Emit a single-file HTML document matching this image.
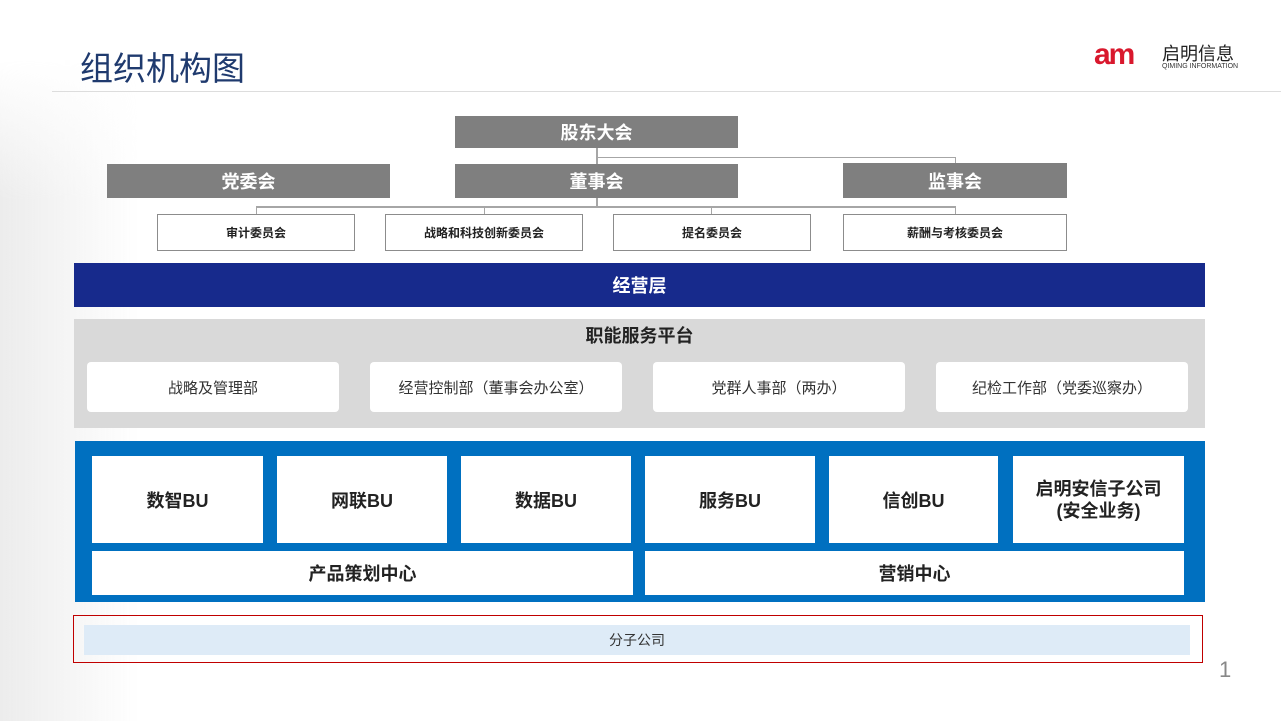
<!DOCTYPE html>
<html><head><meta charset="utf-8"><style>
*{margin:0;padding:0;box-sizing:border-box}
body{width:1281px;height:721px;position:relative;overflow:hidden;background:#fff;font-family:"Liberation Sans","Noto Sans CJK SC",sans-serif}
.a{position:absolute;display:flex;align-items:center;justify-content:center;text-align:center}
.g{background:#7f7f7f;color:#fff;font-weight:bold;font-size:18px}
.c{background:#fff;border:1px solid #8c8c8c;font-size:12px;font-weight:bold;color:#222}
.w{background:#fff;border-radius:4px;font-size:15px;color:#333}
.b{background:#fff;font-size:18px;font-weight:bold;color:#222}
.l{position:absolute;background:#a6a6a6}
</style></head><body>
<div style="position:absolute;left:0;top:0;width:140px;height:721px;background:linear-gradient(90deg,#ececec,rgba(255,255,255,0));-webkit-mask-image:linear-gradient(180deg,transparent 60px,#000 200px);mask-image:linear-gradient(180deg,transparent 60px,#000 200px)"></div>
<div style="position:absolute;left:80px;top:42px;font-size:33px;color:#1f3a6e">组织机构图</div>
<div style="position:absolute;left:52px;top:91px;width:1230px;height:1px;background:#ddd"></div>
<div style="position:absolute;left:1094px;top:38px;font-size:30px;font-weight:bold;color:#d9182d;letter-spacing:-2px;line-height:34px">am</div>
<div style="position:absolute;left:1162px;top:40px;font-size:18px;color:#222">启明信息</div>
<div style="position:absolute;left:1162px;top:63px;font-size:7px;color:#333">QIMING INFORMATION</div>

<div class="l" style="left:596px;top:148px;width:2px;height:59px"></div>
<div class="l" style="left:597px;top:157px;width:359px;height:1px"></div>
<div class="l" style="left:955px;top:157px;width:1px;height:8px"></div>
<div class="l" style="left:256px;top:206px;width:700px;height:2px"></div>
<div class="l" style="left:256px;top:207px;width:1px;height:8px"></div>
<div class="l" style="left:484px;top:207px;width:1px;height:8px"></div>
<div class="l" style="left:711px;top:207px;width:1px;height:8px"></div>
<div class="l" style="left:955px;top:207px;width:1px;height:8px"></div>

<div class="a g" style="left:455px;top:116px;width:283px;height:32px">股东大会</div>
<div class="a g" style="left:107px;top:164px;width:283px;height:34px">党委会</div>
<div class="a g" style="left:455px;top:164px;width:283px;height:34px">董事会</div>
<div class="a g" style="left:843px;top:163px;width:224px;height:35px">监事会</div>
<div class="a c" style="left:157px;top:214px;width:198px;height:37px">审计委员会</div>
<div class="a c" style="left:385px;top:214px;width:198px;height:37px">战略和科技创新委员会</div>
<div class="a c" style="left:613px;top:214px;width:198px;height:37px">提名委员会</div>
<div class="a c" style="left:843px;top:214px;width:224px;height:37px">薪酬与考核委员会</div>

<div class="a" style="left:74px;top:263px;width:1131px;height:44px;background:#172a8c;color:#fff;font-weight:bold;font-size:18px">经营层</div>
<div style="position:absolute;left:74px;top:319px;width:1131px;height:109px;background:#d9d9d9"></div>
<div class="a" style="left:74px;top:322px;width:1131px;height:26px;font-weight:bold;font-size:18px;color:#222">职能服务平台</div>
<div class="a w" style="left:87px;top:362px;width:252px;height:50px">战略及管理部</div>
<div class="a w" style="left:370px;top:362px;width:252px;height:50px">经营控制部（董事会办公室）</div>
<div class="a w" style="left:653px;top:362px;width:252px;height:50px">党群人事部（两办）</div>
<div class="a w" style="left:936px;top:362px;width:252px;height:50px">纪检工作部（党委巡察办）</div>

<div style="position:absolute;left:75px;top:441px;width:1130px;height:161px;background:#0070c0"></div>
<div class="a b" style="left:92px;top:456px;width:171px;height:87px">数智BU</div>
<div class="a b" style="left:277px;top:456px;width:170px;height:87px">网联BU</div>
<div class="a b" style="left:461px;top:456px;width:170px;height:87px">数据BU</div>
<div class="a b" style="left:645px;top:456px;width:170px;height:87px">服务BU</div>
<div class="a b" style="left:829px;top:456px;width:169px;height:87px">信创BU</div>
<div class="a b" style="left:1013px;top:456px;width:171px;height:87px;line-height:22px">启明安信子公司<br>(安全业务)</div>
<div class="a b" style="left:92px;top:551px;width:541px;height:44px">产品策划中心</div>
<div class="a b" style="left:645px;top:551px;width:539px;height:44px">营销中心</div>

<div style="position:absolute;left:73px;top:615px;width:1130px;height:48px;border:1px solid #c00000"></div>
<div class="a" style="left:84px;top:625px;width:1106px;height:30px;background:#deebf7;font-size:14px;color:#333">分子公司</div>
<div style="position:absolute;left:1219px;top:657px;font-size:22px;color:#888">1</div>
</body></html>
